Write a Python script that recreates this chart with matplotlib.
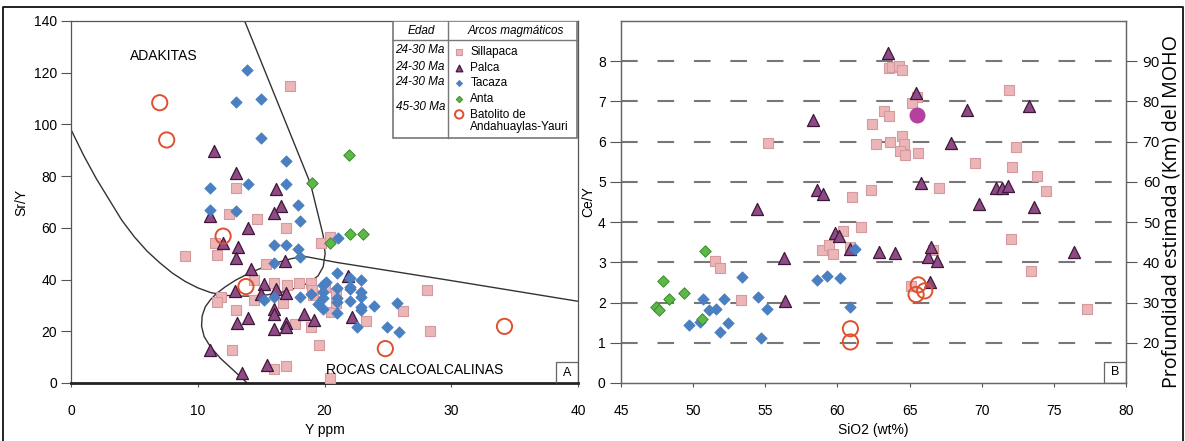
import matplotlib
matplotlib.use("Agg")
import matplotlib.pyplot as plt
from matplotlib.patches import Rectangle
from matplotlib.lines import Line2D

plt.rcParams['font.family'] = ['Liberation Sans', 'DejaVu Sans']

# ---- panel A : Sr/Y vs Y (ppm) ----
sil_a_y = [17.3, 13.0, 12.5, 14.65, 17.0, 11.4, 9.0, 11.5, 15.35, 19.7, 20.45, 14.4, 16.05,
           17.05, 18.0, 18.9, 20.0, 11.8, 11.5, 14.4, 19.1, 20.5, 16.75, 13.0, 17.7, 18.9,
           23.3, 26.2, 28.1, 28.3, 12.7, 19.6, 16.05, 17.0, 20.45, 20.9, 20.9, 19.0]
sil_a_sry = [114.8, 75.3, 65.4, 63.3, 59.8, 54.0, 49.1, 49.5, 46.2, 54.2, 56.3, 39.7, 38.7,
             37.8, 38.5, 38.5, 37.2, 33.3, 31.4, 32.0, 33.9, 27.5, 31.0, 28.1, 22.7, 21.7,
             24.0, 27.7, 36.1, 20.1, 12.6, 14.6, 5.5, 6.6, 2.1, 34.8, 31.0, 36.0]

pal_a_y = [11.3, 13.0, 16.2, 16.6, 16.0, 11.0, 14.0, 12.0, 13.15, 13.0, 16.9, 14.2, 15.25,
           16.2, 21.85, 12.95, 15.0, 17.0, 16.0, 16.05, 18.4, 22.2, 13.1, 14.0, 16.96, 17.0,
           16.0, 19.2, 11.0, 15.5, 13.5]
pal_a_sry = [89.8, 81.3, 75.2, 68.3, 65.7, 64.7, 59.8, 54.3, 52.7, 48.3, 47.3, 44.0, 38.3,
             36.5, 41.3, 35.4, 34.5, 34.8, 28.6, 26.7, 26.6, 25.6, 23.2, 25.1, 23.1, 21.6,
             20.9, 24.5, 12.8, 7.0, 4.0]

tac_a_y = [13.9, 13.0, 15.0, 15.0, 17.0, 14.0, 11.0, 17.0, 17.9, 11.0, 13.0, 18.1, 16.0,
           17.0, 17.9, 18.1, 16.0, 21.1, 20.1, 21.0, 22.0, 22.0, 22.0, 22.9, 22.9, 22.9,
           22.9, 22.9, 23.9, 25.7, 24.9, 25.9, 22.6, 19.9, 19.9, 19.9, 21.0, 21.0, 21.0,
           21.0, 22.0, 15.25, 16.0, 18.1, 18.9, 19.5, 19.85]
tac_a_sry = [121.0, 108.8, 109.7, 94.6, 85.8, 76.8, 75.3, 77.0, 68.8, 66.9, 66.6, 62.7, 53.4,
             53.4, 52.0, 48.8, 46.3, 55.9, 39.1, 42.7, 40.5, 37.2, 36.2, 39.8, 35.1, 33.4,
             29.5, 28.2, 29.9, 30.8, 21.8, 19.6, 21.8, 37.9, 35.3, 32.7, 36.6, 32.7, 31.4,
             26.9, 31.8, 32.1, 33.4, 33.3, 34.6, 30.7, 28.8]

ant_a_y = [21.9, 19.0, 20.4, 22.0, 23.0]
ant_a_sry = [88.2, 77.2, 54.2, 57.8, 57.5]

bat_a_y = [7.0, 7.55, 12.0, 13.8, 24.8, 34.2]
bat_a_sry = [108.4, 94.0, 56.8, 37.3, 13.3, 21.9]

# field boundaries (diagram lines)
adak_y = [13.7, 15.6, 17.5, 18.9, 19.5, 19.9, 20.05, 19.9, 19.5, 18.8, 17.8, 16.7, 15.5,
          14.2, 13.0, 12.0, 11.0, 10.0, 9.0, 8.0, 7.0, 6.0, 5.0, 4.0, 3.0, 2.0, 1.0, 0.0]
adak_sry = [140, 117, 94, 77, 65, 57, 50, 45, 41.5, 38.8, 36.8, 35.2, 34.1,
            33.6, 33.6, 34.0, 35.0, 36.8, 39.3, 42.5, 46.5, 51.0, 56.5, 63.0, 71.0, 79.0,
            88.0, 98.0]
calc_y = [13.9, 12.8, 11.8, 11.0, 10.5, 10.3, 10.35, 10.6, 11.0, 11.5, 12.2, 13.0, 14.1,
          15.2, 16.3, 17.4, 18.4, 21.0, 25.0, 30.0, 35.0, 40.0]
calc_sry = [0, 5, 9.5, 14, 18, 22, 26, 29.5, 32.2, 34.7, 37.3, 39.8, 42.6,
            44.8, 46.6, 48.1, 49.0, 46.6, 43.5, 39.6, 35.6, 31.6]

# ---- panel B : Ce/Y vs SiO2 ----
sil_b_si = [63.57, 63.8, 64.27, 64.5, 65.53, 65.15, 55.2, 62.4, 63.2, 63.57, 62.65, 63.64,
            64.5, 64.6, 64.33, 64.7, 65.6, 61.0, 62.3, 71.9, 72.4, 69.5, 72.1, 73.8, 74.45,
            67.06, 51.5, 51.84, 53.3, 58.9, 59.4, 59.7, 60.4, 61.6, 60.9, 65.1, 66.6, 72.0,
            73.4, 77.3]
sil_b_cey = [7.83, 7.86, 7.88, 7.78, 7.11, 6.96, 5.97, 6.43, 6.76, 6.63, 5.94, 6.0,
             6.14, 5.95, 5.77, 5.66, 5.73, 4.63, 4.81, 7.28, 5.87, 5.48, 5.36, 5.15, 4.77,
             4.85, 3.03, 2.85, 2.06, 3.31, 3.43, 3.21, 3.79, 3.89, 3.39, 2.4, 3.31, 3.58,
             2.78, 1.84]

pal_b_si = [63.5, 58.33, 58.6, 59.0, 54.4, 65.42, 69.0, 73.3, 67.9, 65.77, 71.0, 71.4, 71.85,
            69.8, 73.6, 56.3, 56.37, 59.8, 60.1, 60.9, 62.9, 64.0, 66.3, 66.5, 66.9, 66.4,
            76.4]
pal_b_cey = [8.21, 6.53, 4.81, 4.71, 4.32, 7.21, 6.78, 6.88, 5.97, 4.96, 4.86, 4.86, 4.9,
             4.46, 4.38, 3.1, 2.04, 3.74, 3.66, 3.32, 3.25, 3.23, 3.14, 3.39, 3.03, 2.52,
             3.25]

tac_b_si = [49.7, 50.45, 50.66, 51.08, 51.6, 51.84, 52.16, 52.4, 53.4, 54.5, 54.7, 55.1,
            58.55, 59.3, 60.2, 60.9, 61.2]
tac_b_cey = [1.44, 1.52, 2.1, 1.81, 1.85, 1.27, 2.09, 1.48, 2.64, 2.14, 1.13, 1.83,
             2.56, 2.67, 2.62, 1.9, 3.33]

ant_b_si = [47.45, 47.6, 47.9, 48.3, 49.4, 50.84, 50.6]
ant_b_cey = [1.88, 1.81, 2.54, 2.08, 2.23, 3.28, 1.6]

bat_b_si = [60.9, 60.9, 65.6, 66.05, 65.45]
bat_b_cey = [1.35, 1.02, 2.44, 2.29, 2.2]

extra_b_si = [65.5]
extra_b_cey = [6.66]

legend_labels = ['Sillapaca', 'Palca', 'Tacaza', 'Anta', 'Batolito de']
edad_labels = ['24-30 Ma', '24-30 Ma', '24-30 Ma', '45-30 Ma']

# styles
SQ = dict(marker='s', s=55, facecolor='#ecb6b9', edgecolor='#d59a9e', linewidths=0.8)
TR = dict(marker='^', s=75, facecolor='#8e4a84', edgecolor='#3e1838', linewidths=0.9)
DI = dict(marker='D', s=34, facecolor='#4a7fc1', edgecolor='#4a7fc1', linewidths=0.5)
GR = dict(marker='D', s=34, facecolor='#5db947', edgecolor='#3b8a2a', linewidths=0.7)
CI = dict(marker='o', s=120, facecolor='none', edgecolor='#e0502e', linewidths=1.4)

fig = plt.figure(figsize=(11.85, 4.41), dpi=100)
axA = fig.add_axes([71 / 1185, 58 / 441, 507 / 1185, 362 / 441])
axB = fig.add_axes([621 / 1185, 58 / 441, 505 / 1185, 362 / 441])

# ---------- A ----------
axA.plot(adak_y, adak_sry, color='#333333', lw=1.0, zorder=2)
axA.plot(calc_y, calc_sry, color='#333333', lw=1.0, zorder=2)
h_sil = axA.scatter(sil_a_y, sil_a_sry, zorder=3, **SQ)
h_pal = axA.scatter(pal_a_y, pal_a_sry, zorder=4, **TR)
h_tac = axA.scatter(tac_a_y, tac_a_sry, zorder=4, **DI)
h_ant = axA.scatter(ant_a_y, ant_a_sry, zorder=4, **GR)
h_bat = axA.scatter(bat_a_y, bat_a_sry, zorder=5, **CI)

axA.set_xlim(0, 40)
axA.set_ylim(0, 140)
axA.set_xticks(range(0, 41, 10))
axA.set_yticks(range(0, 141, 20))
axA.set_xlabel('Y ppm', fontsize=10, labelpad=4)
axA.set_ylabel('Sr/Y', fontsize=10, labelpad=4)
axA.tick_params(axis='x', length=3, pad=12, labelsize=10, color='#555')
axA.tick_params(axis='y', length=7, pad=3, labelsize=10, color='#555')
for s in ['left', 'top', 'right']:
    axA.spines[s].set_color('#555555')
    axA.spines[s].set_linewidth(0.9)
axA.spines['bottom'].set_color('#222222')
axA.spines['bottom'].set_linewidth(2.0)

narrow = ['Liberation Sans Narrow', 'Liberation Sans', 'DejaVu Sans']
axA.text(7.3, 126.5, 'ADAKITAS', fontsize=10, ha='center', va='center', family=narrow)
axA.text(27.1, 5.2, 'ROCAS CALCOALCALINAS', fontsize=10, ha='center', va='center', family=narrow)
axA.add_patch(Rectangle((38.3, 0), 1.7, 8.1, fill=False, edgecolor='#666', lw=0.9, zorder=6))
axA.text(39.15, 4.0, 'A', fontsize=9, ha='center', va='center', family=narrow)

# legend table
axA.add_patch(Rectangle((25.4, 94.7), 14.5, 45.3, facecolor='white', edgecolor='#777',
                        lw=1.2, zorder=6))
axA.plot([25.4, 39.9], [132.6, 132.6], color='#777', lw=1.0, zorder=7)
axA.plot([29.75, 29.75], [94.7, 140], color='#777', lw=1.0, zorder=7)
axA.text(27.6, 136.0, 'Edad', fontsize=8.5, style='italic', ha='center', va='center', zorder=8)
axA.text(35.1, 136.0, 'Arcos magmáticos', fontsize=8.5, style='italic', ha='center',
         va='center', zorder=8)
for lab, yy in zip(edad_labels, [128.8, 122.4, 116.6, 106.6]):
    axA.text(27.55, yy, lab, fontsize=8.5, style='italic', ha='center', va='center', zorder=8)
leg = axA.legend([h_sil, h_pal, h_tac, h_ant, h_bat], legend_labels, loc='upper left',
                 bbox_to_anchor=(0.754, 0.930), frameon=False, fontsize=8.5, markerscale=0.55,
                 handlelength=1.0, handletextpad=0.45, labelspacing=0.30, borderpad=0,
                 borderaxespad=0)
leg.set_zorder(9)
axA.text(31.45, 99.1, 'Andahuaylas-Yauri', fontsize=8.5, ha='left', va='center', zorder=8)

# ---------- B ----------
for lvl in range(1, 9):
    axB.axhline(lvl, color='#777777', lw=1.5, dashes=(8, 9.5), zorder=1)
axB.scatter(sil_b_si, sil_b_cey, zorder=3, **SQ)
axB.scatter(pal_b_si, pal_b_cey, zorder=4, **TR)
axB.scatter(tac_b_si, tac_b_cey, zorder=4, **DI)
axB.scatter(ant_b_si, ant_b_cey, zorder=4, **GR)
axB.scatter(bat_b_si, bat_b_cey, zorder=5, **CI)
axB.scatter(extra_b_si, extra_b_cey, marker='o', s=110, color='#b5409f', zorder=5)

axB.set_xlim(45, 80)
axB.set_ylim(0, 9)
axB.set_xticks(range(45, 81, 5))
axB.set_yticks(range(0, 9))
axB.set_xlabel('SiO2 (wt%)', fontsize=10, labelpad=4)
axB.set_ylabel('Ce/Y', fontsize=10, labelpad=2)
axB.tick_params(axis='x', length=3, pad=12, labelsize=10, color='#555')
axB.tick_params(axis='y', length=8, pad=3, labelsize=10, color='#555')
for s in axB.spines.values():
    s.set_color('#666666')
    s.set_linewidth(0.9)
axB.add_patch(Rectangle((78.5, 0), 1.5, 0.52, fill=False, edgecolor='#666', lw=0.9, zorder=6))
axB.text(79.25, 0.27, 'B', fontsize=9, ha='center', va='center', family=narrow)

axR = axB.twinx()
axR.set_ylim(10, 100)
axR.set_yticks(range(20, 91, 10))
axR.tick_params(axis='y', length=8, pad=4, labelsize=11, color='#555')
for lab in axR.get_yticklabels():
    lab.set_family(['Open Sans', 'DejaVu Sans'])
for s in axR.spines.values():
    s.set_color('#666666')
    s.set_linewidth(0.9)
axR.set_ylabel('Profundidad estimada (Km) del MOHO', fontsize=14.2,
               family=['Open Sans', 'DejaVu Sans'])
axR.yaxis.set_label_coords(1.071, 0.475)

# outer frame
fig.add_artist(Line2D([0.0028, 0.0028, 0.9983, 0.9983], [0.0, 0.984, 0.984, 0.0],
                      transform=fig.transFigure, color='#111', lw=1.3))

fig.savefig('out.png', dpi=100, facecolor='white')
